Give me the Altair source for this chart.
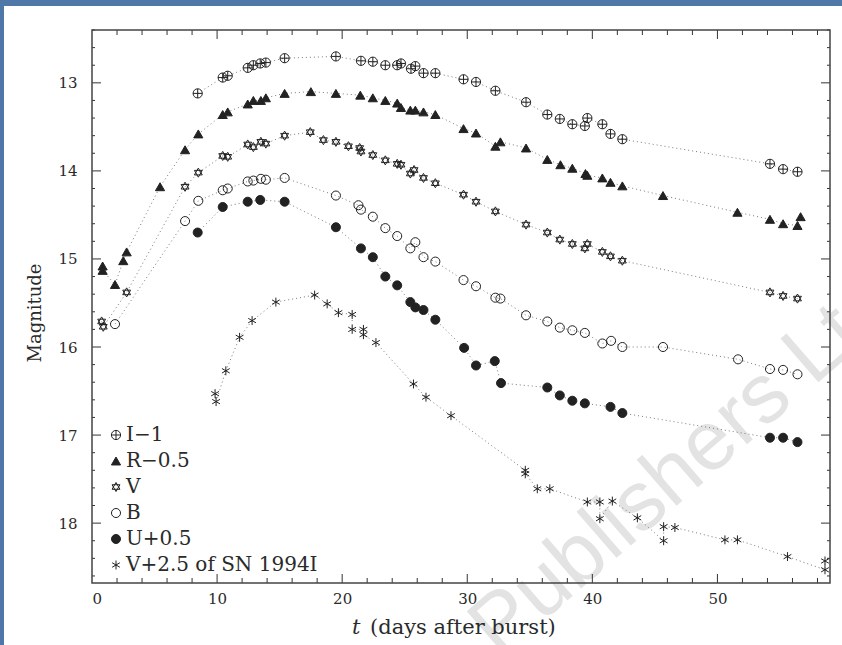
import altair as alt
import pandas as pd

# ---- light curves: days after burst and magnitude (offsets already applied) ----
i_day = [8.45, 10.45, 10.85, 12.45, 12.9, 13.45, 13.9, 15.4, 19.5, 21.5, 22.45, 23.45,
         24.4, 24.7, 25.5, 25.85, 26.5, 27.45, 29.7, 30.7, 32.25, 34.7, 36.4, 37.4,
         38.4, 39.4, 39.6, 40.8, 41.45, 42.4, 54.2, 55.25, 56.4]
i_mag = [13.12, 12.94, 12.92, 12.83, 12.80, 12.78, 12.77, 12.72, 12.70, 12.75, 12.76, 12.80,
         12.80, 12.78, 12.84, 12.81, 12.89, 12.89, 12.96, 12.99, 13.09, 13.22, 13.36, 13.41,
         13.47, 13.49, 13.40, 13.47, 13.58, 13.64, 13.92, 13.98, 14.01]

r_day = [0.85, 0.85, 1.84, 2.5, 2.77, 5.44, 7.44, 8.5, 10.45, 10.85, 12.45, 12.9, 13.5,
         13.9, 15.4, 17.5, 19.5, 21.45, 22.45, 23.45, 24.4, 24.7, 25.45, 25.85, 26.5,
         27.45, 29.7, 30.7, 32.25, 32.65, 34.7, 36.4, 37.45, 38.4, 39.45, 39.6, 40.8,
         41.45, 42.4, 45.65, 51.6, 54.2, 55.25, 56.4, 56.65]
r_mag = [15.08, 15.13, 15.29, 15.02, 14.92, 14.18, 13.76, 13.58, 13.36, 13.33, 13.24, 13.20,
         13.20, 13.17, 13.12, 13.10, 13.12, 13.14, 13.17, 13.20, 13.23, 13.28, 13.31, 13.31,
         13.33, 13.36, 13.52, 13.57, 13.72, 13.67, 13.74, 13.87, 13.93, 13.97, 14.03, 14.05,
         14.08, 14.13, 14.17, 14.28, 14.47, 14.55, 14.60, 14.62, 14.52]

v_day = [0.77, 0.9, 2.77, 7.44, 8.5, 10.45, 10.85, 12.45, 12.9, 13.5, 13.9, 15.4, 17.45,
         18.5, 19.5, 20.5, 21.4, 21.5, 22.45, 23.45, 24.4, 24.7, 25.45, 25.75, 26.5, 27.45,
         29.7, 30.7, 32.25, 34.7, 36.4, 37.4, 38.4, 39.4, 39.6, 40.8, 41.45, 42.4, 54.2,
         55.25, 56.4]
v_mag = [15.71, 15.77, 15.38, 14.18, 14.02, 13.83, 13.84, 13.70, 13.73, 13.67, 13.69, 13.60,
         13.56, 13.65, 13.67, 13.72, 13.74, 13.78, 13.82, 13.88, 13.92, 13.93, 14.03, 13.99,
         14.08, 14.14, 14.27, 14.35, 14.46, 14.61, 14.70, 14.78, 14.83, 14.88, 14.83, 14.92,
         14.97, 15.02, 15.38, 15.42, 15.45]

b_day = [1.84, 7.44, 8.5, 10.45, 10.85, 12.45, 12.9, 13.5, 13.9, 15.4, 19.5, 21.3, 21.5,
         22.45, 23.45, 24.4, 25.45, 25.85, 26.5, 27.45, 29.7, 30.7, 32.25, 32.65, 34.7,
         36.4, 37.4, 38.4, 39.4, 40.8, 41.5, 42.4, 45.65, 51.65, 54.2, 55.25, 56.4]
b_mag = [15.74, 14.57, 14.34, 14.22, 14.20, 14.12, 14.11, 14.09, 14.10, 14.08, 14.28, 14.39,
         14.44, 14.52, 14.65, 14.74, 14.88, 14.81, 14.98, 15.03, 15.24, 15.31, 15.44, 15.45,
         15.64, 15.71, 15.78, 15.81, 15.84, 15.96, 15.93, 16.00, 16.00, 16.14, 16.25, 16.26,
         16.31]

u_day = [8.45, 10.45, 12.45, 13.45, 15.4, 19.5, 21.5, 22.45, 23.45, 24.4, 25.45, 25.85,
         26.5, 27.45, 29.75, 30.7, 32.2, 32.7, 36.4, 37.4, 38.4, 39.4, 41.45, 42.4, 54.2,
         55.25, 56.4]
u_mag = [14.70, 14.41, 14.35, 14.33, 14.35, 14.64, 14.88, 14.98, 15.20, 15.30, 15.49, 15.55,
         15.58, 15.69, 16.01, 16.21, 16.16, 16.41, 16.46, 16.55, 16.61, 16.64, 16.68, 16.75,
         17.03, 17.03, 17.08]

sn_day = [9.84, 9.92, 10.7, 11.8, 12.8, 14.7, 17.8, 18.8, 19.7, 20.8, 20.8, 21.7, 21.7,
          22.7, 25.7, 26.7, 28.7, 34.64, 34.64, 35.6, 36.6, 39.6, 40.6, 40.6, 41.6, 43.6,
          45.7, 45.7, 46.6, 50.6, 51.6, 55.6, 58.6, 58.6]
sn_mag = [16.53, 16.62, 16.27, 15.89, 15.70, 15.49, 15.41, 15.51, 15.61, 15.63, 15.80, 15.80,
          15.86, 15.95, 16.42, 16.57, 16.78, 17.40, 17.44, 17.61, 17.61, 17.76, 17.76, 17.95,
          17.75, 17.94, 18.20, 18.04, 18.05, 18.19, 18.19, 18.38, 18.53, 18.43]

series_names = ["I\u22121", "R\u22120.5", "V", "B", "U+0.5", "V+2.5 of SN 1994I"]

# ---- axis tick values ----
x_labels = [0, 10, 20, 30, 40, 50]
y_labels = [13, 14, 15, 16, 17, 18]
x_major = [10, 20, 30, 40, 50]
x_minor = [v for v in range(2, 59, 2) if v % 10 != 0]
y_major = [13, 14, 15, 16, 17, 18]
y_minor = [round(12.4 + 0.2 * k, 1) for k in range(32)
           if round((12.4 + 0.2 * k) % 1, 1) not in (0.0, 1.0)]

# ---- layout and styling ----
W, H = 738, 553
FONT = "DejaVu Serif"
INK = "#222222"
TEXT = "#2a2a2a"

PLUS_CIRCLE = "M-1,0A1,1,0,1,1,1,0A1,1,0,1,1,-1,0ZM-1,0L1,0M0,-1L0,1"
HEXAGRAM = "M0,-1L0.866,0.5L-0.866,0.5ZM0,1L0.866,-0.5L-0.866,-0.5Z"
ASTERISK = "M0,-1L0,1M-0.866,-0.5L0.866,0.5M-0.866,0.5L0.866,-0.5"

shape_range = [PLUS_CIRCLE, "triangle-up", HEXAGRAM, "circle", "circle", ASTERISK]
fill_range = ["transparent", INK, "transparent", "transparent", INK, "transparent"]
size_range = [85, 80, 95, 85, 110, 55]

rows = []
for name, days, mags in zip(series_names,
                            [i_day, r_day, v_day, b_day, u_day, sn_day],
                            [i_mag, r_mag, v_mag, b_mag, u_mag, sn_mag]):
    for k, (d, m) in enumerate(zip(days, mags)):
        rows.append({"series": name, "day": d, "mag": m, "seq": k})
df = pd.DataFrame(rows)

xs = alt.Scale(domain=[0, 59], nice=False, zero=False)
ys = alt.Scale(domain=[12.4, 18.68], nice=False, zero=False, reverse=True)

# one shared axis definition per channel, used by every layer
x_axis = alt.Axis(
    values=x_labels, ticks=False, domain=False, grid=False, title=None, format="d",
    labelFont=FONT, labelFontSize=15, labelColor=TEXT, labelPadding=8, zindex=2)
y_axis = alt.Axis(
    values=y_labels, ticks=False, domain=False, grid=False, format="d",
    labelFont=FONT, labelFontSize=15, labelColor=TEXT, labelPadding=15,
    title="Magnitude", titleFont=FONT, titleFontSize=18, titleFontWeight="normal",
    titleColor=TEXT, titleX=-57, titleY=H / 2 + 6, titleBaseline="middle", zindex=2)

one = pd.DataFrame({"k": [0]})

# white sheet over the blue surround
sheet = alt.Chart(one).mark_rect(fill="white").encode(
    x=alt.value(-88), x2=alt.value(W + 12), y=alt.value(-24), y2=alt.value(H + 62)
)

watermark = alt.Chart(one).mark_text(
    text="Publishers Ltd", font="Liberation Sans", fontSize=84, color="#e3e3e3",
    angle=319, align="center", baseline="middle"
).encode(x=alt.value(592), y=alt.value(436))

legend = alt.Legend(
    orient="none", legendX=14, legendY=395, title=None, padding=0,
    labelFont=FONT, labelFontSize=20, labelColor=TEXT, labelOffset=0, labelLimit=400,
    rowPadding=6, symbolStrokeColor=INK, symbolStrokeWidth=1, direction="vertical",
    zindex=2,
)


def series_scale(values):
    return alt.Scale(domain=series_names, range=values)


lines = alt.Chart(df).mark_line(color="#7a7a7a", strokeWidth=1, strokeDash=[1, 3]).encode(
    x=alt.X("day:Q", scale=xs, axis=x_axis),
    y=alt.Y("mag:Q", scale=ys, axis=y_axis),
    detail="series:N",
    order="seq:Q",
)

points = alt.Chart(df).mark_point(filled=True, strokeWidth=1, opacity=1).encode(
    x=alt.X("day:Q", scale=xs, axis=x_axis),
    y=alt.Y("mag:Q", scale=ys, axis=y_axis),
    shape=alt.Shape("series:N", scale=series_scale(shape_range), legend=legend),
    fill=alt.Fill("series:N", scale=series_scale(fill_range), legend=legend),
    stroke=alt.Stroke("series:N", scale=series_scale([INK] * 6), legend=legend),
    size=alt.Size("series:N", scale=series_scale(size_range), legend=legend),
)


def ticks(values, axis, length):
    """Inward tick marks on both sides of the frame for one axis."""
    d = pd.DataFrame({"v": values})
    base = alt.Chart(d).mark_rule(color="#333333", strokeWidth=1)
    if axis == "x":
        enc = alt.X("v:Q", scale=xs, axis=x_axis)
        return [base.encode(x=enc, y=alt.value(H), y2=alt.value(H - length)),
                base.encode(x=enc, y=alt.value(0), y2=alt.value(length))]
    enc = alt.Y("v:Q", scale=ys, axis=y_axis)
    return [base.encode(y=enc, x=alt.value(0), x2=alt.value(length)),
            base.encode(y=enc, x=alt.value(W), x2=alt.value(W - length))]


tick_layers = (ticks(x_major, "x", 9) + ticks(x_minor, "x", 5)
               + ticks(y_major, "y", 9) + ticks(y_minor, "y", 3))

frame = alt.Chart(one).mark_rect(fillOpacity=0, stroke="#444444", strokeWidth=1.5).encode(
    x=alt.value(0), x2=alt.value(W), y=alt.value(0), y2=alt.value(H)
)

x_title_t = alt.Chart(one).mark_text(
    text="t", font=FONT, fontSize=21, fontStyle="italic", color=TEXT,
    align="left", baseline="alphabetic"
).encode(x=alt.value(260), y=alt.value(604))

x_title_rest = alt.Chart(one).mark_text(
    text="(days after burst)", font=FONT, fontSize=21, color=TEXT,
    align="left", baseline="alphabetic"
).encode(x=alt.value(278), y=alt.value(604))

chart = alt.layer(
    sheet, watermark, lines, *tick_layers, frame, points, x_title_t, x_title_rest
).properties(
    width=W, height=H, autosize="none",
    padding={"left": 92, "top": 30, "right": 12, "bottom": 62},
    background="#4f78a8",
).configure_view(strokeWidth=0)

chart.save("out.html", embed_options={"renderer": "svg", "actions": False})
